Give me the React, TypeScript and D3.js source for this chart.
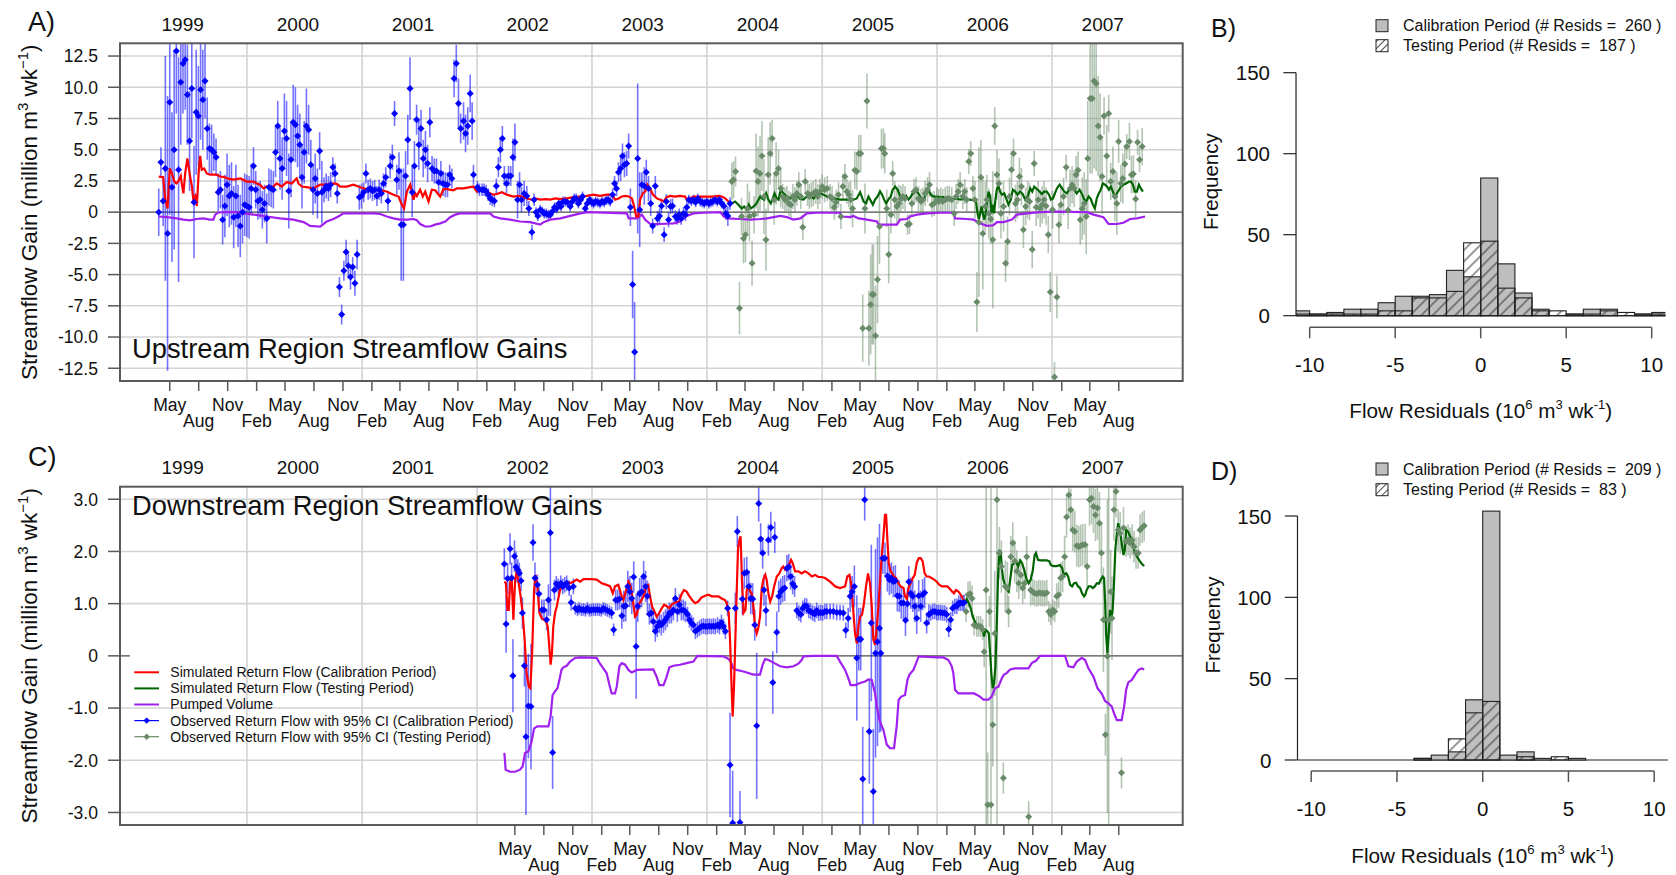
import React, { useEffect, useRef } from "react";
import * as d3 from "d3";

// ---------------------------------------------------------------------------
// Weekly series: week 0 = 27 Mar 1999. Observed rows are [week, value, 95% CI half-width].
// Simulated / pumped rows are [week, value]. Units: million m3 per week.
// ---------------------------------------------------------------------------
const SERIES_START = new Date(1999, 2, 27);
const WEEK_MS = 7 * 24 * 3600 * 1000;
const UP_TEST_OFFSET = 260; // upstream testing period starts 260 weeks in

const upObsCal: number[][] = [
  [0,0.0,1.9],[1,4.0,1.2],[2,0.9,2.0],[3,3.5,9],[4,-1.7,11],[5,8.8,9],[6,2.0,6],[7,5.0,8],[8,12.9,5],[9,3.4,9],
  [10,10.4,5],[11,11.9,4],[12,12.2,4],[13,9.4,4],[14,5.7,4],[15,9.9,4],[16,0.8,4.5],[17,8.0,5],[18,7.7,4],[19,9.8,4],
  [20,9.0,4],[21,10.5,3],[22,6.7,2.5],[23,5.1,2],[24,5.0,2],[25,4.8,1.5],[26,4.4,1.5],[27,1.6,1.5],[28,1.8,1.5],[29,-0.6,2],
  [30,0.5,2.5],[31,2.2,2.5],[32,1.3,2.5],[33,1.5,2.5],[34,-0.4,2.5],[35,1.3,2.5],[36,-0.3,2.5],[37,-1.1,2.5],[38,0.0,2.5],[39,0.6,2.5],
  [40,0.5,2.5],[41,0.4,2.5],[42,1.9,2],[43,3.7,1.5],[44,1.8,1.5],[45,0.9,1.5],[46,1.0,1.5],[47,0.2,1.5],[48,0.7,1.5],[49,-0.5,2],
  [50,2.0,1.5],[51,1.9,1.5],[52,1.8,1.5],[53,4.8,2],[54,6.9,2],[55,4.3,2.5],[56,3.5,2.5],[57,6.5,3],[58,5.9,3],[59,1.7,3],
  [60,4.2,3],[61,7.2,3],[62,7.0,3],[63,6.1,2.5],[64,5.4,2.5],[65,2.8,2.5],[66,4.8,2.5],[67,6.9,3],[68,6.6,2],[69,3.8,2],
  [70,1.8,2],[71,2.7,2],[72,1.5,2],[73,4.9,1.5],[74,1.6,2.5],[75,1.8,1],[76,2.1,1],[77,1.9,1],[78,2.2,1],[79,3.6,0.8],
  [80,3.1,0.8],[81,1.5,0.8],[82,-6.0,0.8],[83,-8.2,0.8],[84,-4.7,0.8],[85,-3.2,1],[86,-4.3,1],[87,-5.2,1],[88,-4.4,0.8],[89,-5.7,1],
  [90,-3.4,1.2],[91,1.2,1],[92,1.3,1],[93,1.6,0.8],[94,3.1,0.8],[95,1.8,0.8],[96,1.9,0.8],[97,1.7,0.8],[98,1.8,0.8],[99,1.3,0.8],
  [100,1.8,0.8],[101,1.5,0.8],[102,2.3,0.8],[103,2.8,0.8],[104,0.9,0.8],[105,3.7,1],[106,4.4,1],[107,7.9,1],[108,2.6,1.2],[109,3.3,1.5],
  [110,-1.0,4.5],[111,-1.0,4.5],[112,2.9,2],[113,5.8,2],[114,9.9,2.5],[115,1.6,2],[116,3.7,2],[117,7.4,1.2],[118,5.4,2],[119,6.7,1.5],
  [120,4.3,1.5],[121,5.0,1.5],[122,3.9,1.5],[123,7.2,1.2],[124,3.5,1],[125,3.3,1],[126,3.3,1],[127,2.4,1],[128,3.1,1],[129,2.3,1],
  [130,2.2,1],[131,2.2,1],[132,3.0,0.8],[133,2.7,0.8],[134,10.7,1.5],[135,11.9,1.5],[136,8.7,2],[137,6.7,1.2],[138.3,7.3,1.5],[139.2,6.3,1.5],
  [140.2,6.9,1.5],[141.3,9.5,1.5],[142.2,7.3,1.5],[142.8,3.0,0.8],[144.6,2.0,0.5],[145.5,1.8,0.5],[146.7,1.8,0.5],[147.6,1.8,0.5],[148.5,1.7,0.5],[149.5,1.4,0.5],
  [150.4,1.1,0.5],[151.3,1.0,0.5],[152.3,0.9,0.5],[153.2,2.1,0.6],[154.1,3.6,0.8],[155,5.0,1],[155.9,5.9,1],[156.8,2.9,0.8],[157.8,2.3,0.8],[158.7,2.9,0.8],
  [159.7,2.9,0.8],[160.7,4.4,1.5],[161.6,5.6,1.5],[162.8,1.0,1.5],[163.7,2.2,1],[164.6,1.0,1],[165.8,1.5,1],[167,1.3,0.8],[167.9,0.3,0.6],[169.3,-1.6,0.6],
  [170.3,1.0,0.5],[171.2,0.0,0.4],[172,-0.3,0.4],[173.1,0.2,0.4],[174,0.05,0.4],[174.9,-0.1,0.4],[175.8,-0.1,0.4],[176.8,-0.2,0.4],[177.7,-0.2,0.4],[178.6,0.05,0.4],
  [179.6,0.4,0.4],[180.6,0.3,0.4],[181.5,0.7,0.4],[182.5,0.45,0.4],[183.5,0.85,0.4],[184.4,0.85,0.4],[185.4,0.8,0.4],[186.7,0.45,0.4],[187.6,0.85,0.4],[188.5,1.1,0.4],
  [189.4,1.1,0.4],[190.4,0.7,0.4],[191.4,1.0,0.4],[192.3,1.25,0.4],[193.5,0.3,0.4],[194.4,0.7,0.4],[195.5,1.0,0.4],[196.4,0.8,0.4],[197.3,0.7,0.4],[198.2,0.85,0.4],
  [199.2,0.8,0.4],[200.2,0.7,0.4],[201.1,0.85,0.4],[202.1,0.8,0.4],[203,0.95,0.4],[203.9,1.0,0.4],[204.8,0.85,0.4],[205.9,1.4,0.5],[206.8,2.3,0.6],[207.7,1.9,0.6],
  [208.6,3.2,0.8],[209.6,3.5,1],[210.4,4.5,1],[211.3,3.8,1],[212.3,3.9,1],[213.2,5.3,1],[214,0.4,1.5],[215,-5.8,2.7],[215.9,-11.2,4],[217.3,4.3,6],
  [218.2,0.2,3],[219.2,2.2,1],[220.3,2.1,1.5],[221.2,3.2,1],[222.2,1.9,1],[223.2,0.7,1],[224.1,-1.1,0.6],[225.3,2.1,0.8],[226.3,-0.5,0.6],[227.2,-0.3,0.6],
  [228.1,0.5,0.6],[229.3,-1.8,0.6],[230.3,0.85,0.6],[231.3,-0.6,0.6],[232.2,0.45,0.6],[233.1,0.5,0.6],[234.4,-0.35,0.5],[235.2,-0.5,0.5],[236.1,-0.2,0.5],[237,-0.5,0.5],
  [238.1,-0.1,0.5],[239,-0.2,0.5],[239.6,0.4,0.5],[240.5,1.0,0.4],[241.6,0.9,0.4],[242.6,1.0,0.4],[243.6,0.8,0.4],[244.6,1.1,0.4],[245.7,0.85,0.4],[246.6,0.8,0.4],
  [247.5,0.7,0.4],[248.6,0.85,0.4],[249.6,0.7,0.4],[250.5,0.8,0.4],[251.4,0.85,0.4],[252.4,1.0,0.4],[253.4,0.85,0.4],[254.4,1.0,0.4],[255.4,0.7,0.4],[256.4,0.5,0.4],
  [257.3,-0.1,0.5],[258.2,-0.3,0.8],[259.2,0.7,0.5]
];

// weeks counted from the start of the upstream testing period
const upObsTest: number[][] = [
  [0,2.45,1.5],[0.8,2.6,1.5],[1.7,3.25,1.2],[3.5,-7.7,2.1],[4.4,-0.35,1.5],[5.3,-2.1,2],[6.2,-1.8,2.2],[7.1,0.3,2],[8,-0.35,2],[9.2,-4.1,1.8],
  [10.1,-0.2,1.5],[11,3.3,3],[11.9,2.45,2.8],[12.8,3.1,3],[13.7,4.5,2.8],[14.6,1.25,3],[15.5,-2.2,2.5],[16.5,3.0,3],[17.4,4.7,2.5],[18.3,5.9,1.5],
  [19.2,1.0,2],[20.1,3.1,2.5],[21.2,3.5,1.5],[22.2,1.9,1.5],[23.1,1.25,1],[24.1,1.0,1],[25,1.1,1],[25.9,0.7,1],[26.8,0.6,1],[27.7,1.25,1],
  [28.6,1.0,1],[29.5,1.5,1],[30.4,2.2,1],[31.3,1.25,1],[32.2,-1.2,1],[33.3,2.45,1],[34.4,1.5,1],[35.2,1.25,1],[36.1,1.4,1],[37,1.5,1],
  [38.1,1.65,1],[39,1.25,1],[39.9,1.65,1],[41,2.05,1],[42.1,1.8,1],[43.3,1.9,1],[44.6,1.25,1],[45.5,1.1,1],[46.5,0.4,1],[47.3,0.8,1],
  [48.4,1.4,1],[49.5,-0.35,1],[50.4,2.05,1],[51.3,2.85,1],[52.2,1.65,1],[53.1,1.4,1],[53.9,1.0,1.5],[54.8,0.3,1.5],[55.8,3.35,1.5],[56.7,3.25,1.5],
  [57.6,4.7,1.5],[58.5,4.7,1.5],[59.4,-9.3,2.7],[60.4,0.3,2],[61.3,8.9,2.2],[62.2,-9.3,3],[63,-7.4,4],[63.7,-6.6,4],[64.3,-6.6,4],[65.2,-9.9,4],
  [66.1,-5.4,3.5],[67,-1.15,3],[67.9,5.1,1.6],[68.8,5.1,1.6],[69.4,4.7,1.6],[70.3,0.3,1.5],[71.2,-3.4,2.3],[72.2,-0.2,1.5],[73,3.1,1],[73.9,1.0,1.5],
  [74.9,0.45,1.5],[75.8,0.7,1.5],[76.7,1.1,1],[77.6,1.25,1],[78.6,1.1,1],[79.7,-1.0,0.8],[80.6,-0.95,0.8],[81.7,0.7,1],[82.7,1.65,1],[83.6,1.8,1],
  [84.7,1.1,1],[85.8,0.85,1],[86.7,1.0,1],[87.7,1.5,1],[88.8,1.8,1],[89.7,2.2,1],[90.8,0.6,1],[91.8,0.7,1],[93,1.0,1],[93.9,0.85,1],
  [94.8,1.0,1],[95.7,0.85,1],[96.8,1.0,1],[97.8,1.1,1],[98.7,1.1,1],[99.8,1.0,1],[100.9,-0.1,1],[101.8,1.25,1],[102.7,1.65,1],[103.6,2.2,1],
  [104.8,1.25,1],[105.7,1.65,1],[106.6,1.0,1],[107.5,4.05,1],[108.4,4.7,1],[109.4,1.9,1],[110.3,1.0,1.5],[111.2,-7.2,2.4],[112.1,-0.8,6],[113,2.8,3],
  [113.9,-1.7,4.5],[115,0.45,2],[115.7,1.0,2],[116.6,-0.1,2],[117.5,-0.55,2],[118.4,-2.2,5.5],[119.3,6.9,1.5],[120.3,3.0,2],[121.2,2.3,2],[122.1,-0.1,2],
  [123.3,0.45,2],[124.2,-4.1,1.5],[125.1,-2.35,2],[126,1.25,1.5],[126.9,3.4,1.5],[127.8,4.7,1.2],[128.7,0.7,1.5],[129.6,1.0,1.5],[130.5,2.85,1.5],[131.4,2.05,1.5],
  [132.3,-1.4,1.5],[133.3,0.45,1.5],[134.2,1.0,1.5],[135.1,0.85,1.5],[136.3,-3.0,1.5],[137.2,3.9,1],[138.1,0.4,1.5],[139,1.0,1.5],[139.9,0.3,1.5],[140.8,0.6,1.5],
  [141.7,1.0,1.5],[142.6,0.5,1.5],[143.6,-1.8,1.5],[144.5,-6.4,1.6],[145.5,0.2,1.5],[146.4,-13.2,1.2],[147.5,-6.8,1.7],[148.4,-1.0,1.5],[149.3,0.6,1.5],[150.5,1.25,1.5],
  [151.7,3.6,1],[152.6,0.15,1.5],[153.5,1.9,1.5],[154.4,2.2,1.5],[155.3,1.9,1.5],[156.2,3.0,1.5],[157.1,3.35,1.5],[158.1,-0.6,2],[159,0.3,2.5],[159.9,0.7,2.5],
  [160.8,-0.35,3],[161.5,4.3,4.6],[162.6,9.1,6],[163.5,9.1,6],[164.4,10.5,7],[165.3,10.3,7],[166.2,6.9,4],[167.1,6.0,3.5],[168,2.85,3],[168.9,7.7,1.5],
  [170.1,4.5,2.5],[171,7.9,1.5],[171.9,2.45,1.5],[172.9,3.25,2],[173.8,1.25,2],[174.7,0.7,2.5],[175.5,5.65,1.7],[176.5,2.3,1.5],[177.4,2.7,2],[178.3,3.85,1.5],
  [179.2,5.25,1],[180.4,5.65,1.5],[181.3,3.0,1.5],[182.2,3.05,1.5],[183.2,1.05,1.5],[184.1,5.6,1],[185,4.2,1],[186.2,5.25,1.5]
];

const upSimCal: number[][] = [
  [0,2.85],[2,2.8],[3,1.0],[4,0.3],[5,3.5],[6,3.1],[7,2.5],[8,2.3],[9,2.5],[10,2.9],[10.6,2.1],[11.2,1.5],[12,3.1],[13,4.3],[14,3.1],
  [15,2.1],[15.7,1.0],[16.6,1.3],[17.3,0.5],[18.2,3.4],[18.8,4.5],[19.5,3.4],[20.6,3.5],[21.8,3.1],[23.3,3.0],[26.3,3.0],[27.8,2.85],[30,2.8],
  [31,2.7],[34,2.6],[37,2.7],[40,2.45],[43,2.45],[44.5,2.3],[46,2.2],[47.5,1.9],[49,2.05],[50.5,1.9],[52,2.05],[53.5,2.3],[55.8,2.05],[58,2.4],
  [60.4,2.3],[61.9,2.6],[62.6,2.7],[63.4,2.3],[64.9,2.05],[67,2.0],[70.2,1.9],[73.2,2.2],[76.2,2.2],[79.3,2.3],[81,2.25],[82.3,2.05],[85.3,2.05],
  [88.3,2.2],[90.6,2.05],[92.9,1.9],[94.4,1.85],[97.4,1.8],[100.4,1.75],[103.4,1.65],[106.5,1.4],[108.8,1.25],[110.3,0.6],[111.3,0.3],[112.6,1.65],
  [114.1,2.2],[115.6,1.0],[116.4,1.5],[117.1,1.3],[118.6,1.8],[119.8,1.25],[120.9,1.65],[122.4,0.85],[123.9,1.8],[125.4,1.75],[127.7,1.25],
  [129.2,1.85],[130.7,1.85],[133.7,1.75],[135.2,1.9],[138.2,1.9],[141.3,2.0],[142.8,2.05],[144.3,1.65],[145.8,1.8],[148.1,1.75],[150.4,1.5],
  [151.9,1.4],[153.4,1.45],[155.7,1.6],[157.9,1.4],[160.9,1.25],[163.2,1.3],[165.5,1.2],[167.8,1.05],[169.3,1.0],[170.8,1.1],[173.1,1.0],
  [175.4,1.05],[177.6,1.0],[179.9,1.1],[182.2,1.05],[185.2,1.1],[188.2,1.2],[191.2,1.25],[194.2,1.3],[197.2,1.4],[200.3,1.3],[203.3,1.4],
  [205.5,1.4],[207.1,1.0],[208.6,1.1],[210.1,1.25],[211.6,1.3],[213.2,1.25],[214.7,1.1],[215.7,0.45],[216.6,-0.35],[217.6,-0.35],[218.4,1.0],
  [219.6,1.5],[220.7,1.65],[221.7,2.2],[222.9,1.9],[224.2,1.4],[226,1.1],[227.5,1.0],[229,0.85],[230.5,1.2],[232,1.3],[234.3,1.25],[236.5,1.3],
  [238.8,1.25],[239.6,1.0],[241.1,1.05],[242.6,1.25],[244.9,1.25],[247.2,1.25],[249.4,1.25],[251.7,1.25],[254,1.3],[255.5,1.25],[257,1.1],
  [258.5,0.85],[259.6,0.7]
];

// weeks counted from the start of the upstream testing period
const upSimTest: number[][] = [
  [0,0.7],[1.5,0.85],[3,0.6],[4.5,0.3],[5.6,0.45],[6.8,0.2],[7.7,0.6],[8.6,0.3],[9.8,0.45],[11,0.65],[12.1,1.0],[12.9,1.25],[13.6,1.1],
  [14.7,1.0],[15.6,1.5],[16.6,1.0],[17.7,0.7],[18.6,1.1],[19.4,1.5],[20.4,1.1],[21.2,1.0],[22.2,1.8],[23.4,1.5],[25,1.25],[26.5,1.1],[28,1.25],
  [29.5,1.3],[31,1.05],[32.5,1.0],[34,1.25],[35.6,1.3],[37.1,1.1],[38.6,1.4],[40.1,1.5],[41.6,1.4],[43.1,1.25],[46.1,1.1],[49.1,1.0],[52.2,1.0],
  [55.2,1.0],[56.7,1.1],[58.2,1.6],[59.8,0.85],[60.9,0.7],[62,1.25],[62.8,1.0],[64,0.6],[65,1.0],[66.1,1.25],[67.3,1.65],[68.2,1.4],[69.1,1.0],
  [70,0.7],[71,1.0],[72.1,1.25],[73,1.8],[74.1,2.05],[75.2,1.8],[76.1,1.4],[77.1,1.0],[78.2,1.1],[79.1,1.3],[80.2,1.0],[81.2,1.25],[82.1,1.5],
  [83.2,1.8],[84.3,1.6],[85.4,1.25],[86.2,1.0],[87.3,1.1],[88.2,1.5],[89.2,1.8],[90.3,1.4],[91.5,1.25],[93,1.25],[94.5,1.2],[96,1.2],[97.6,1.1],
  [99.1,1.1],[100.6,1.05],[102.1,1.1],[103.6,1.0],[105.1,1.05],[106.6,1.0],[108.1,1.0],[109.6,0.95],[110.8,0.85],[111.5,-0.1],[112.1,-0.6],
  [112.7,-0.1],[113.3,0.45],[113.9,-0.1],[114.5,-0.6],[115.1,-0.2],[115.7,0.7],[116.5,1.65],[117.2,1.25],[117.8,-0.1],[118.4,0.6],[119,-0.1],
  [119.6,1.0],[120.3,1.9],[121,2.05],[121.7,1.65],[122.6,1.4],[123.6,1.5],[124.5,1.1],[125.5,0.6],[126.6,1.0],[127.5,1.8],[128.6,1.65],
  [129.6,1.4],[130.8,1.65],[132,1.45],[133.1,1.0],[134.2,1.25],[135.4,1.9],[136.3,1.65],[137.2,2.05],[138.4,1.85],[139.6,1.65],[140.7,1.45],
  [141.7,1.65],[142.9,1.65],[143.9,1.4],[144.8,1.0],[145.7,1.1],[146.6,1.5],[147.5,1.9],[148.7,2.2],[149.9,1.9],[150.8,1.65],[152,1.5],
  [153.2,1.9],[154.4,2.05],[155.3,1.8],[156.5,1.5],[157.8,1.8],[159,1.4],[159.9,1.0],[160.8,0.85],[161.9,1.25],[162.9,1.05],[163.8,0.6],
  [164.7,0.3],[165.6,1.1],[166.5,1.5],[167.4,1.8],[168.4,2.3],[169.3,2.2],[170.2,2.05],[171.1,1.8],[172,2.05],[172.9,1.65],[173.8,1.25],
  [174.7,1.5],[175.6,1.75],[176.5,2.05],[177.7,2.2],[178.9,2.3],[180.2,2.45],[181.1,2.45],[182,2.2],[182.9,1.65],[183.8,1.65],[184.7,2.2],
  [185.6,1.9],[186.5,1.65]
];

const upPumped: number[][] = [
  [0,-0.35],[3.6,-0.4],[8.2,-0.5],[11.2,-0.6],[14.2,-0.65],[17.2,-0.55],[20.3,-0.5],[23.3,-0.6],[24.8,-0.6],[25.6,-0.2],[27,-0.03],[30.9,0],
  [35.4,0],[38.4,-0.1],[43,-0.2],[49,-0.35],[55,-0.5],[61.1,-0.6],[65.7,-0.8],[68.7,-1.1],[73.2,-1.15],[74.7,-0.95],[76.2,-0.75],[79.3,-0.55],
  [81.5,-0.35],[83.8,-0.1],[97.4,-0.1],[100.5,-0.15],[103.5,-0.35],[106.5,-0.5],[109.5,-0.6],[112.6,-0.6],[115.6,-0.55],[117.1,-0.65],
  [118.6,-0.95],[120.9,-1.15],[123.1,-1.15],[125.4,-1.0],[127.7,-0.9],[130,-0.75],[132.2,-0.4],[134.5,-0.2],[136.8,-0.1],[150.4,-0.1],
  [151.9,-0.35],[154.9,-0.5],[159.4,-0.6],[164,-0.75],[168.5,-0.8],[173.1,-1.0],[174.6,-0.8],[177.6,-0.6],[182.2,-0.5],[186.7,-0.3],
  [191.3,-0.1],[194.2,0],[212.4,-0.1],[213.2,-0.5],[217,-0.5],[219.2,-0.2],[220.7,-0.6],[223,-0.95],[227.5,-0.95],[233.6,-0.9],[236.6,-0.75],
  [239.6,-0.3],[242.6,-0.1],[247.2,-0.05],[254.8,0],[256.3,-0.35],[257.8,-0.5],[263.9,-0.55],[268.4,-0.6],[273,-0.55],[276,-0.5],[282,-0.3],
  [285,-0.4],[288,-0.6],[291.1,-0.5],[294.1,-0.1],[298.6,-0.05],[309.1,-0.05],[309.9,-0.35],[313.7,-0.4],[315.2,-0.3],[317.5,-0.5],
  [321.3,-0.6],[325.9,-0.75],[326.6,-1.0],[334.9,-1.0],[336.4,-0.6],[339.4,-0.55],[340.9,-0.35],[344,-0.2],[348.5,-0.1],[354.5,-0.05],
  [360.6,-0.05],[361.3,-0.5],[366.6,-0.55],[369.7,-0.6],[372,-0.85],[375.7,-1.1],[378.7,-1.05],[380.3,-0.8],[383.3,-0.8],[387.1,-0.6],
  [389.3,-0.2],[393.9,-0.1],[399.9,0],[406,0.05],[421.1,0],[424.1,-0.2],[428.6,-0.4],[430.9,-0.95],[434.7,-0.95],[437.7,-0.85],[440.7,-0.55],
  [443.8,-0.5],[447.5,-0.35]
];

// Downstream region (same week numbering as upstream)
const dnObsCal: number[][] = [
  [156.8,1.76,0.3],[157.6,0.61,0.55],[158.3,1.48,0.3],[159.4,2.05,0.3],[160.1,1.49,0.3],[160.7,-0.38,0.7],[161.4,1.91,0.3],[162.1,1.7,0.3],
  [162.9,1.65,0.2],[163.6,1.58,0.2],[164.4,1.44,0.2],[165,0.82,0.3],[165.9,-0.19,0.4],[166.6,-1.55,1.5],[167.7,-0.96,1.0],[168.9,-0.97,1.2],
  [169.8,2.17,0.35],[170.7,1.49,0.3],[171.8,1.36,0.2],[172.5,1.19,0.2],[173.8,0.88,0.2],[174.8,0.88,0.2],[176,0.69,0.2],[176.8,1.07,0.3],
  [177.7,2.36,1.6],[178.7,-1.85,0.7],[179.5,1.26,0.2],[180.4,1.38,0.15],[181.3,1.33,0.15],[182.4,1.39,0.15],[183.3,1.33,0.15],[184.2,1.36,0.15],
  [185.1,1.39,0.15],[186.2,1.3,0.15],[187.1,1.02,0.15],[188.1,1.33,0.15],[189,0.91,0.12],[190,0.88,0.12],[190.8,0.91,0.12],[191.8,0.88,0.12],
  [192.7,0.89,0.12],[193.6,0.87,0.12],[194.5,0.91,0.12],[195.4,0.87,0.12],[196.3,0.88,0.12],[197.2,0.89,0.12],[198.1,0.88,0.12],[199,0.89,0.12],
  [199.9,0.88,0.12],[200.8,0.87,0.12],[201.7,0.91,0.12],[202.6,0.89,0.12],[203.5,0.87,0.12],[204.5,0.85,0.12],[205.5,0.82,0.12],[206.4,0.5,0.12],
  [207.3,1.07,0.2],[208.2,1.07,0.2],[209.1,1.09,0.2],[210.1,0.77,0.25],[211,0.95,0.3],[211.9,0.96,0.3],[212.8,1.33,0.3],[213.7,1.23,0.3],
  [214.6,1.1,0.3],[215.5,1.51,0.3],[216.6,0.18,1.0],[217.3,0.95,0.3],[218.2,1.19,0.3],[219.1,1.23,0.3],[220,1.52,0.3],[220.9,1.33,0.3],
  [221.7,1.14,0.3],[222.6,0.8,0.2],[223.5,0.82,0.2],[224.4,0.66,0.2],[225.3,0.47,0.2],[226.2,0.56,0.2],[227.1,0.64,0.2],[228,0.59,0.2],
  [229,0.64,0.2],[229.9,0.69,0.2],[230.8,0.75,0.2],[231.7,0.82,0.2],[232.6,0.82,0.2],[233.5,0.88,0.2],[234.4,1.1,0.2],[235.3,0.85,0.2],
  [236.2,0.98,0.2],[237.1,0.88,0.2],[238,0.88,0.2],[238.9,0.85,0.2],[239.9,0.79,0.15],[240.8,0.69,0.15],[241.7,0.63,0.15],[242.6,0.59,0.15],
  [243.5,0.47,0.15],[244.4,0.5,0.15],[245.3,0.53,0.15],[246.2,0.56,0.15],[247.1,0.57,0.15],[248,0.56,0.15],[248.9,0.56,0.15],[249.8,0.57,0.15],
  [250.7,0.56,0.15],[251.6,0.57,0.15],[252.5,0.56,0.15],[253.5,0.59,0.15],[254.4,0.56,0.15],[255.3,0.64,0.15],[256.2,0.56,0.15],[257.1,0.47,0.15],
  [258.1,0.91,0.15],[259.2,-2.09,1.0],[260.4,-3.2,1.0],[261.6,0.91,0.3],[262.5,2.38,0.3],[263.7,-3.19,0.6],[264.8,1.09,0.3],[265.7,1.58,0.3],
  [266.8,1.6,0.3],[267.7,1.33,0.3],[268.6,1.1,0.3],[269.5,1.09,0.3],[270.4,0.59,0.3],[271.3,-1.34,1.4],[272.2,2.92,0.35],[273.1,2.24,0.3],
  [274,1.97,0.3],[274.6,1.26,0.3],[275.5,0.87,0.3],[276.6,2.22,0.3],[277.7,2.46,0.3],[278.6,-0.51,0.6],[279.5,2.27,0.3],[280.4,0.45,0.4],
  [281.3,1.14,0.3],[282.2,1.23,0.25],[283.1,1.28,0.25],[284,1.3,0.25],[285,1.68,0.25],[285.8,1.7,0.25],[286.7,1.52,0.25],[287.6,1.38,0.2],
  [288.5,1.33,0.2],[289.5,0.87,0.15],[290.4,0.82,0.15],[291.3,0.79,0.15],[292.2,0.91,0.15],[293.1,0.96,0.15],[294,0.95,0.15],[294.9,0.87,0.15],
  [295.8,0.85,0.15],[296.7,0.82,0.15],[297.6,0.8,0.15],[298.5,0.87,0.15],[299.4,0.82,0.15],[300.3,0.83,0.15],[301.2,0.82,0.15],[302.2,0.85,0.15],
  [303.1,0.85,0.15],[304.6,0.85,0.15],[306.1,0.85,0.15],[307.6,0.83,0.15],[309.1,0.83,0.15],[310.6,0.82,0.15],[311.7,0.49,0.15],[312.8,0.72,0.2],
  [313.7,1.14,0.3],[314.6,1.23,0.3],[315.6,1.33,0.4],[316.7,-0.04,1.2],[317.6,0.32,0.6],[318.5,0.32,0.6],[319.4,-2.36,1.0],[320.3,2.99,0.4],
  [322.4,-1.45,1.0],[323.3,0.63,1.5],[324.2,-2.6,1.2],[325.2,0.05,2],[326.1,0.27,2],[327,0.53,2],[327.6,0.05,1.5],[328.5,1.87,0.3],
  [329.5,1.87,0.3],[330.6,1.53,0.3],[331.5,1.46,0.3],[332.4,1.49,0.3],[333.3,1.42,0.3],[334.2,1.44,0.3],[335.1,1.15,0.3],[336,1.14,0.3],
  [336.9,1.01,0.3],[337.9,1.01,0.3],[338.8,0.68,0.3],[339.7,1.0,0.3],[340.3,1.42,0.3],[341.2,1.2,0.3],[342.1,1.14,0.3],[343,0.95,0.3],
  [343.9,0.72,0.3],[344.8,1.15,0.3],[345.7,0.95,0.3],[346.6,1.17,0.3],[347.5,1.21,0.3],[348.4,0.63,0.2],[349.4,0.79,0.2],[350.3,0.82,0.15],
  [351.2,0.85,0.15],[352.1,0.85,0.15],[353,0.83,0.15],[353.9,0.83,0.15],[354.8,0.83,0.15],[355.7,0.82,0.15],[356.6,0.82,0.15],[357.5,0.79,0.15],
  [358.4,0.51,0.15],[359.3,0.69,0.15],[360.2,0.91,0.15],[361.2,0.95,0.15],[362.1,0.95,0.15],[363,1.01,0.15],[363.9,1.01,0.15],[364.8,1.01,0.15],
  [365.4,1.02,0.15]
];

const dnObsTest: number[][] = [
  [366.3,0.85,0.2],[367.2,1.17,0.25],[368.1,1.19,0.25],[369,1.1,0.25],[369.9,0.59,0.2],[371.1,0.56,0.2],[372,0.57,0.2],[372.9,0.56,0.2],
  [373.8,0.5,0.2],[374.5,0.08,0.3],[375.4,1.26,5],[376.1,-2.85,1.0],[376.9,0.85,0.3],[377.6,-2.85,7],[378.4,-1.32,0.8],[379.3,0.43,1.2],
  [380.3,2.99,7],[381.4,1.97,0.5],[382.3,1.71,0.5],[383.2,-2.34,0.3],[384.1,1.33,0.5],[385,1.3,0.5],[385.6,0.85,0.3],[386.6,1.9,0.4],
  [387.5,2.16,0.4],[388.4,1.81,0.4],[389.3,1.62,0.4],[390.2,1.39,0.3],[391.1,1.55,0.3],[392,1.3,0.3],[392.9,1.39,0.3],[393.8,1.9,0.4],
  [394.7,-3.08,0.3],[395.6,1.26,0.3],[396.5,1.23,0.25],[397.4,1.2,0.25],[398.4,1.19,0.25],[399.3,1.21,0.25],[400.2,1.2,0.25],[401.1,1.2,0.25],
  [402,1.19,0.25],[402.9,1.21,0.25],[403.8,0.85,0.2],[404.7,0.79,0.2],[405.6,0.88,0.2],[406.5,0.85,0.2],[407.4,1.14,0.25],[408.3,1.17,0.25],
  [409.2,1.49,0.3],[410.1,1.52,0.3],[411,1.9,0.4],[411.9,2.66,0.4],[412.9,3.08,0.4],[413.8,2.8,0.4],[414.7,2.41,0.4],[415.6,2.38,0.4],
  [416.5,2.11,0.4],[417.4,2.09,0.4],[418.3,2.11,0.4],[419.2,2.13,0.4],[420.3,2.13,0.4],[421.2,1.71,0.4],[422.3,2.99,0.5],[423.2,3.02,0.5],
  [424.1,2.86,0.5],[425,2.7,0.5],[425.9,2.83,0.6],[426.8,2.54,0.6],[427.7,1.97,0.6],[428.6,0.69,1.0],[429.5,-1.51,0.4],[430.4,-0.01,3],
  [431,0.69,4],[431.9,1.23,0.8],[432.5,0.72,0.8],[433.4,2.8,0.6],[434.3,3.15,0.5],[435.3,2.41,0.4],[436.2,2.35,0.4],[436.8,-2.24,0.3],
  [437.7,2.45,0.4],[438.9,2.19,0.3],[439.8,2.22,0.3],[440.7,2.16,0.3],[441.6,2.22,0.3],[442.5,2.09,0.3],[443.4,1.97,0.3],[444.4,1.97,0.3],
  [445.2,2.41,0.3],[446.2,2.46,0.3],[447.1,2.49,0.3]
];

const dnSimCal: number[][] = [
  [156.8,1.42],[157.5,1.4],[158.2,0.88],[158.8,0.88],[159.4,1.39],[160.1,1.52],[160.9,0.69],[161.7,1.46],[162.4,1.62],[163.3,1.39],[164.2,1.14],
  [165.1,0.82],[166,0.31],[166.9,-0.33],[167.9,-0.59],[168.6,-0.62],[169.4,0.05],[170.3,1.26],[170.9,1.55],[171.8,1.33],[172.7,0.82],[173.8,0.72],
  [174.8,0.69],[175.7,0.66],[176.5,0.56],[177.2,0.18],[177.8,-0.17],[178.4,0.05],[179,0.56],[179.8,0.82],[180.6,0.95],[181.5,1.14],[182.4,1.33],
  [183.3,1.39],[184.3,1.39],[185.4,1.42],[186.6,1.39],[188.1,1.42],[189.6,1.46],[191.2,1.42],[192.7,1.47],[194.2,1.47],[196.4,1.47],[198.7,1.46],
  [201,1.39],[203.2,1.36],[204.8,1.33],[206,1.2],[207,1.33],[208.5,1.36],[210.1,1.14],[210.8,1.07],[211.9,1.23],[213.1,1.42],[214.1,1.33],
  [215,1.1],[216.1,0.75],[216.9,0.79],[218.1,1.01],[219.1,1.07],[220.2,1.17],[221.1,1.33],[222.1,1.36],[222.9,1.14],[223.8,0.95],[224.9,0.85],
  [225.9,0.75],[227.1,0.82],[228.2,0.91],[229.3,0.98],[230.5,0.95],[231.7,0.91],[232.7,0.98],[233.8,1.01],[235,1.04],[235.9,1.01],[237.1,1.17],
  [238.3,1.26],[239.5,1.23],[240.8,1.14],[242,1.07],[243.3,1.01],[244.8,1.04],[246.3,1.12],[247.9,1.15],[249.4,1.17],[250.9,1.14],[252.4,1.14],
  [253.9,1.14],[255.4,1.1],[256.9,1.07],[257.7,1.01],[258.6,0.82],[259.2,0.31],[259.8,-0.46],[260.4,-1.16],[261,-0.59],[261.6,0.31],[262.2,1.2],
  [262.8,2.03],[263.4,2.22],[264,2.29],[264.6,1.46],[265.3,0.82],[266.2,0.88],[266.8,1.26],[267.5,1.33],[268.3,1.23],[269,1.2],[269.8,0.95],
  [270.5,0.56],[271.3,0.43],[272,0.53],[272.8,0.75],[273.6,1.3],[274.3,1.46],[275.2,1.55],[275.8,1.46],[276.6,1.2],[277.4,1.04],[278.3,1.14],
  [279.2,1.33],[280.4,1.52],[281.6,1.58],[282.6,1.68],[283.4,1.71],[284.2,1.65],[285.2,1.71],[286.1,1.76],[286.9,1.84],[287.6,1.78],[288.7,1.62],
  [290.2,1.62],[291.7,1.58],[293.2,1.62],[294.8,1.58],[296.3,1.52],[297.8,1.55],[299.3,1.51],[300.8,1.51],[302.3,1.49],[304.6,1.42],[306.9,1.33],
  [309.1,1.3],[311.4,1.33],[312.4,1.52],[313.4,1.55],[314.3,1.33],[315.2,0.82],[315.9,0.43],[316.7,0.24],[317.4,0.56],[318.2,0.75],[319.1,0.79],
  [320,1.01],[320.9,1.33],[321.8,1.58],[322.7,1.39],[323.5,0.95],[324.2,0.31],[325,0.21],[325.8,0.56],[326.5,0.95],[327.3,1.46],[328,1.9],
  [328.8,2.29],[329.5,2.7],[330,2.7],[330.6,2.22],[331.2,1.78],[331.8,1.65],[332.7,1.58],[333.6,1.52],[334.5,1.49],[335.6,1.39],[336.6,1.33],
  [337.9,1.3],[338.6,1.14],[339.4,1.09],[340.3,1.33],[341.2,1.39],[342.1,1.49],[343,1.55],[343.9,1.78],[344.8,1.87],[345.7,1.87],[346.6,1.81],
  [347.5,1.58],[348.4,1.52],[349.4,1.52],[350.6,1.49],[351.8,1.46],[353,1.42],[354.2,1.36],[355.4,1.33],[356.6,1.33],[357.8,1.33],[359,1.28],
  [360,1.23],[360.8,1.2],[361.7,1.26],[362.8,1.23],[363.9,1.17],[364.8,1.1],[365.7,1.01]
];

const dnSimTest: number[][] = [
  [365.7,1.01],[366.6,1.09],[367.5,1.01],[368.4,0.91],[369.3,0.75],[370.2,0.66],[371.1,0.59],[372,0.59],[372.9,0.56],[373.9,0.47],[374.5,0.37],
  [375,0.5],[376,0.47],[376.6,0.43],[377.2,0.05],[377.8,-0.36],[378.4,-0.62],[379,-0.52],[379.6,-0.2],[380.2,0.56],[380.8,1.52],[381.4,2.03],
  [382,1.97],[382.6,1.65],[383.2,1.46],[384.1,1.33],[385,1.26],[385.6,1.23],[386.3,1.46],[387.2,1.74],[388.1,1.78],[389,1.81],[389.9,1.71],
  [390.8,1.83],[391.7,1.78],[392.6,1.65],[393.8,1.46],[394.7,1.39],[395.6,1.46],[396.5,1.62],[397.4,1.93],[398,1.97],[398.9,1.84],[399.9,1.83],
  [401.4,1.83],[402.9,1.83],[404.1,1.81],[404.7,1.74],[405.9,1.72],[407.4,1.72],[408.9,1.74],[409.9,1.68],[410.5,1.55],[411.7,1.58],[412.6,1.52],
  [413.5,1.36],[414.4,1.33],[415.3,1.39],[416.2,1.4],[417.1,1.33],[418,1.3],[418.9,1.2],[419.8,1.14],[420.4,1.17],[421,1.26],[421.9,1.33],
  [422.9,1.33],[423.8,1.3],[424.7,1.33],[425.6,1.39],[426.5,1.38],[427.4,1.46],[428.3,1.52],[428.9,1.49],[429.4,1.01],[429.8,0.43],[430.4,0.05],
  [431,0.43],[431.6,0.88],[432.2,0.69],[432.8,0.88],[433.4,1.39],[434,2.03],[434.7,2.35],[435.3,2.54],[435.9,2.41],[436.5,2.29],[437.1,2.09],
  [437.7,1.93],[438.3,2.03],[438.9,2.41],[439.8,2.38],[440.7,2.29],[441.6,2.22],[442.5,2.03],[443.4,1.93],[444.3,1.87],[445.2,1.81],[446.1,1.76],
  [447.1,1.72]
];

const dnPumped: number[][] = [
  [156.8,-1.86],[157.4,-2.18],[159.4,-2.22],[161.7,-2.22],[163.9,-2.18],[165.1,-2.12],[166.2,-1.86],[167.7,-1.83],[169.2,-1.64],[170.3,-1.39],
  [171.8,-1.35],[176.8,-1.35],[177.8,-1.16],[178.7,-0.75],[179.8,-0.68],[180.9,-0.62],[181.8,-0.46],[182.7,-0.27],[183.6,-0.22],[185.1,-0.19],
  [186.6,-0.11],[188.9,-0.04],[191.1,-0.03],[198.7,-0.04],[200.2,-0.15],[201.7,-0.24],[203.2,-0.33],[204.5,-0.56],[205.5,-0.72],[207,-0.72],
  [207.8,-0.59],[209,-0.2],[210.1,-0.14],[211.6,-0.17],[213.1,-0.27],[214.6,-0.32],[216.9,-0.27],[224.4,-0.26],[225.9,-0.4],[227.1,-0.56],
  [229,-0.56],[230.2,-0.43],[231.7,-0.22],[233.5,-0.19],[236.5,-0.17],[239.5,-0.14],[242.6,-0.11],[244.4,0],[256.2,-0.01],[258.5,-0.06],
  [259.5,-0.11],[260.7,-0.24],[262.2,-0.27],[265.3,-0.3],[269.8,-0.36],[272.8,-0.36],[274,-0.17],[275.1,-0.06],[276.6,-0.08],[278.9,-0.13],
  [281.9,-0.2],[285,-0.22],[288,-0.2],[290.2,-0.15],[291.7,-0.08],[292.5,-0.01],[297,0],[307.6,0],[309.1,-0.11],[311.4,-0.27],[312.9,-0.43],
  [313.9,-0.56],[315.9,-0.56],[318.2,-0.52],[320.5,-0.49],[322,-0.45],[323.5,-0.46],[325,-0.72],[325.8,-0.97],[327,-1.23],[328.8,-1.42],
  [330.3,-1.7],[331.8,-1.77],[333.6,-1.77],[334.8,-1.35],[335.7,-0.84],[336.9,-0.78],[338.6,-0.75],[339.7,-0.46],[340.6,-0.36],[342.4,-0.27],
  [343.9,-0.11],[344.8,-0.01],[353,-0.03],[356,-0.03],[358.3,-0.08],[359.8,-0.2],[360.5,-0.33],[361.3,-0.65],[362.8,-0.72],[369.9,-0.72],
  [372.6,-0.78],[374.2,-0.84],[376.4,-0.84],[377.9,-0.78],[379.4,-0.62],[381,-0.59],[382.5,-0.43],[383.5,-0.36],[384.7,-0.33],[386.3,-0.26],
  [388.5,-0.24],[394.6,-0.24],[396.1,-0.14],[398.1,-0.09],[399.9,0],[411.2,0],[412.7,-0.2],[415,-0.22],[416.5,-0.11],[418.8,-0.04],[420.3,-0.08],
  [421.8,-0.24],[424.1,-0.4],[425.9,-0.62],[427.8,-0.72],[429.4,-0.87],[430.9,-0.91],[432.4,-0.97],[433.4,-1.1],[434.7,-1.23],[436.9,-1.23],
  [438,-0.97],[438.9,-0.65],[439.9,-0.51],[441.5,-0.46],[443,-0.36],[444.5,-0.27],[446,-0.24],[447.1,-0.26]
];

// Residual histograms: one-unit bins, lower edges -11 .. 10
const histBinLower = d3.range(-11, 11);
const upCalCounts = [3,1,2,4,4,8,12,12,13,28,24,85,32,14,4,0,1,4,4,0,1,2];
const upTestCounts = [1,1,1,1,1,3,3,11,11,15,45,46,17,11,3,3,1,1,3,2,1,1];
const dnCalCounts = [0,0,0,0,0,0,0,1,3,5,37,153,3,5,1,0,1,0,0,0,0,0];
const dnTestCounts = [0,0,0,0,0,0,0,1,0,13,29,36,0,2,0,2,0,0,0,0,0,0];

const yearLabels = d3.range(1999, 2008);
const upYTicks = [12.5, 10, 7.5, 5, 2.5, 0, -2.5, -5, -7.5, -10, -12.5];
const dnYTicks = [3, 2, 1, 0, -1, -2, -3];
const histYTicks = [0, 50, 100, 150];
const histXTicks = [-10, -5, 0, 5, 10];

const legendLabels = [
  "Simulated Return Flow (Calibration Period)",
  "Simulated Return Flow (Testing Period)",
  "Pumped Volume",
  "Observed Return Flow with 95% CI (Calibration Period)",
  "Observed Return Flow with 95% CI (Testing Period)",
];

// ---------------------------------------------------------------------------
const FONT = "'Liberation Sans', Arial, Helvetica, sans-serif";
const RED = "#FF0000";
const DKGREEN = "#006400";
const PURPLE = "#A020F0";
const BLUE = "#0000FF";
const TESTPT = "#698B69";
const BLUE_CI = "rgba(0,0,255,0.55)";
const TEST_CI = "rgba(105,139,105,0.5)";
const GRID = "#d3d3d3";
const FRAME = "#5a5a5a";

const weekDate = (w: number) => new Date(SERIES_START.getTime() + w * WEEK_MS);

const x = d3
  .scaleTime()
  .domain([new Date(1998, 10, 24), new Date(2008, 1, 20)])
  .range([120, 1182.7]);

const diamond = (r: number) => `M0,${-r}L${r},0L0,${r}L${-r},0Z`;

type Sel = d3.Selection<any, any, any, any>;

interface SeriesCfg {
  id: string;
  top: number;
  bottom: number;
  yDomain: [number, number];
  yTicks: number[];
  obsCal: number[][];
  obsTest: number[][];
  testOffset: number;
  simCal: number[][];
  simTest: number[][];
  pumped: number[][];
  monthStart: Date;
  title: string;
  titleY: number;
  panel: string;
  panelY: number;
  legend: boolean;
}

function fmtTick(v: number) {
  return v === 0 ? "0" : v.toFixed(1);
}

function drawSeriesPanel(svg: Sel, defs: Sel, c: SeriesCfg) {
  const L = 120, R = 1182.7;
  const y = d3.scaleLinear().domain(c.yDomain).range([c.bottom, c.top]);
  const g = svg.append("g");

  defs.append("clipPath").attr("id", `clip-${c.id}`)
    .append("rect").attr("x", L).attr("y", c.top).attr("width", R - L).attr("height", c.bottom - c.top);

  // grid
  const drawGrid = (target: Sel) => {
    const gg = target.append("g");
    gg.selectAll("line.h").data(c.yTicks.filter((v) => v !== 0)).join("line")
      .attr("x1", L).attr("x2", R).attr("y1", (d) => y(d)).attr("y2", (d) => y(d))
      .attr("stroke", GRID).attr("stroke-width", 1.6);
    gg.selectAll("line.v").data(d3.range(2000, 2008)).join("line")
      .attr("x1", (d) => x(new Date(d, 0, 1))).attr("x2", (d) => x(new Date(d, 0, 1)))
      .attr("y1", c.top).attr("y2", c.bottom)
      .attr("stroke", GRID).attr("stroke-width", 1.6);
  };
  drawGrid(g);

  // zero line
  g.append("line").attr("x1", L).attr("x2", R).attr("y1", y(0)).attr("y2", y(0))
    .attr("stroke", "#4d4d4d").attr("stroke-width", 1.3);

  if (c.legend) {
    const lg = g.append("g");
    lg.append("rect").attr("x", 130).attr("y", 652).attr("width", 388).attr("height", 94).attr("fill", "#fff");
    defs.append("clipPath").attr("id", "legclip").append("rect").attr("x", 130).attr("y", 652).attr("width", 388).attr("height", 94);
    drawGrid(lg.append("g").attr("clip-path", "url(#legclip)"));
    const colors = [RED, DKGREEN, PURPLE, BLUE, TESTPT];
    legendLabels.forEach((lab, i) => {
      const yy = 672.3 + 16.1 * i;
      const isPt = i >= 3;
      lg.append("line").attr("x1", 134.3).attr("x2", 159).attr("y1", yy).attr("y2", yy)
        .attr("stroke", colors[i]).attr("stroke-width", isPt ? 1.2 : 2);
      if (isPt) lg.append("path").attr("d", diamond(3.2)).attr("transform", `translate(146.7,${yy})`).attr("fill", colors[i]);
      lg.append("text").attr("x", 170.3).attr("y", yy + 4.9).attr("font-size", 14).attr("fill", "#111")
        .attr("font-family", FONT).text(lab);
    });
  }

  const data = g.append("g").attr("clip-path", `url(#clip-${c.id})`);
  const testX = (w: number) => x(weekDate(w + c.testOffset));
  const calX = (w: number) => x(weekDate(w));

  // error bars
  data.append("g").selectAll("line").data(c.obsCal).join("line")
    .attr("x1", (d) => calX(d[0])).attr("x2", (d) => calX(d[0]))
    .attr("y1", (d) => y(d[1] - d[2])).attr("y2", (d) => y(d[1] + d[2]))
    .attr("stroke", BLUE_CI).attr("stroke-width", 1.6);
  data.append("g").selectAll("line").data(c.obsTest).join("line")
    .attr("x1", (d) => testX(d[0])).attr("x2", (d) => testX(d[0]))
    .attr("y1", (d) => y(d[1] - d[2])).attr("y2", (d) => y(d[1] + d[2]))
    .attr("stroke", TEST_CI).attr("stroke-width", 1.6);

  // lines
  const line = (fx: (w: number) => number) =>
    d3.line<number[]>().x((d) => fx(d[0])).y((d) => y(d[1]));
  data.append("path").attr("d", line(calX)(c.pumped)).attr("fill", "none").attr("stroke", PURPLE).attr("stroke-width", 2.2);
  data.append("path").attr("d", line(calX)(c.simCal)).attr("fill", "none").attr("stroke", RED).attr("stroke-width", 2.2);
  data.append("path").attr("d", line(testX)(c.simTest)).attr("fill", "none").attr("stroke", DKGREEN).attr("stroke-width", 2.2);

  // points
  data.append("g").selectAll("path").data(c.obsCal).join("path")
    .attr("d", diamond(3.5)).attr("transform", (d) => `translate(${calX(d[0])},${y(d[1])})`).attr("fill", BLUE);
  data.append("g").selectAll("path").data(c.obsTest).join("path")
    .attr("d", diamond(3.5)).attr("transform", (d) => `translate(${testX(d[0])},${y(d[1])})`).attr("fill", TESTPT);

  // frame
  g.append("rect").attr("x", L).attr("y", c.top).attr("width", R - L).attr("height", c.bottom - c.top)
    .attr("fill", "none").attr("stroke", FRAME).attr("stroke-width", 2);

  // y axis
  const ya = g.append("g").attr("font-family", FONT).attr("font-size", 17.6).attr("fill", "#111");
  c.yTicks.forEach((v) => {
    ya.append("line").attr("x1", 108).attr("x2", L).attr("y1", y(v)).attr("y2", y(v)).attr("stroke", FRAME).attr("stroke-width", 1.5);
    ya.append("text").attr("x", 98).attr("y", y(v) + 6.3).attr("text-anchor", "end").text(fmtTick(v));
  });

  // month ticks
  const months = d3.timeMonth.range(c.monthStart, new Date(2007, 7, 2), 3);
  const ma = g.append("g").attr("font-family", FONT).attr("font-size", 17.6).attr("fill", "#111");
  months.forEach((m, i) => {
    const xx = x(m);
    ma.append("line").attr("x1", xx).attr("x2", xx).attr("y1", c.bottom).attr("y2", c.bottom + 10).attr("stroke", FRAME).attr("stroke-width", 1.5);
    ma.append("text").attr("x", xx).attr("y", c.bottom + (i % 2 === 0 ? 29.5 : 46)).attr("text-anchor", "middle")
      .text(d3.timeFormat("%b")(m));
  });

  // year labels
  const yl = g.append("g").attr("font-family", FONT).attr("font-size", 19).attr("fill", "#111");
  yearLabels.forEach((yr) => {
    yl.append("text").attr("x", x(new Date(yr, 5, 11))).attr("y", c.top - 12.8).attr("text-anchor", "middle").text(String(yr));
  });

  // titles
  g.append("text").attr("x", 132).attr("y", c.titleY).attr("font-family", FONT).attr("font-size", 27.3).attr("fill", "#111").text(c.title);
  g.append("text").attr("x", 28).attr("y", c.panelY).attr("font-family", FONT).attr("font-size", 27).attr("fill", "#111").text(c.panel);

  const cy = (c.top + c.bottom) / 2;
  const yt = g.append("text").attr("transform", `translate(37,${cy}) rotate(-90)`).attr("text-anchor", "middle")
    .attr("font-family", FONT).attr("font-size", 22.5).attr("fill", "#111");
  yt.append("tspan").text("Streamflow Gain (million m");
  yt.append("tspan").attr("dy", -9).attr("font-size", 15).text("3");
  yt.append("tspan").attr("dy", 9).text(" wk");
  yt.append("tspan").attr("dy", -9).attr("font-size", 15).text("\u22121");
  yt.append("tspan").attr("dy", 9).text(")");
}

interface HistCfg {
  id: string;
  x0: number;
  pxPerUnit: number;
  yZero: number;
  y150: number;
  axisY: number;
  cal: number[];
  test: number[];
  calN: number;
  testN: number;
  panel: string;
  panelY: number;
  legendY: [number, number];
  freqX: number;
  freqY: number;
  tickLabelY: number;
  titleY: number;
}

function drawHist(svg: Sel, defs: Sel, h: HistCfg) {
  const hx = d3.scaleLinear().domain([-10.8, 10.8]).range([h.x0 - 10.8 * h.pxPerUnit, h.x0 + 10.8 * h.pxPerUnit]);
  const hy = d3.scaleLinear().domain([0, 150]).range([h.yZero, h.y150]);
  const g = svg.append("g");
  defs.append("clipPath").attr("id", `hclip-${h.id}`).append("rect")
    .attr("x", hx(-10.8)).attr("y", hy(156)).attr("width", hx(10.8) - hx(-10.8)).attr("height", hy(0) - hy(156) + 2);
  const bars = g.append("g").attr("clip-path", `url(#hclip-${h.id})`);

  bars.append("line").attr("x1", hx(-11)).attr("x2", hx(11)).attr("y1", hy(0)).attr("y2", hy(0)).attr("stroke", "#222").attr("stroke-width", 1.2);
  const idx = histBinLower.map((_, i) => i);
  bars.append("g").selectAll("rect").data(idx.filter((i) => h.cal[i] > 0)).join("rect")
    .attr("x", (i) => hx(histBinLower[i])).attr("width", (i) => hx(histBinLower[i] + 1) - hx(histBinLower[i]))
    .attr("y", (i) => hy(h.cal[i])).attr("height", (i) => hy(0) - hy(h.cal[i]))
    .attr("fill", "#bebebe").attr("stroke", "#222").attr("stroke-width", 1.1);
  bars.append("g").selectAll("rect").data(idx.filter((i) => h.test[i] > 0)).join("rect")
    .attr("x", (i) => hx(histBinLower[i])).attr("width", (i) => hx(histBinLower[i] + 1) - hx(histBinLower[i]))
    .attr("y", (i) => hy(h.test[i])).attr("height", (i) => hy(0) - hy(h.test[i]))
    .attr("fill", "url(#hatch)").attr("stroke", "#222").attr("stroke-width", 1.1);

  // y axis
  const ax = g.append("g").attr("font-family", FONT).attr("font-size", 20.5).attr("fill", "#111");
  const axX = hx(-10.8);
  ax.append("line").attr("x1", axX).attr("x2", axX).attr("y1", hy(0)).attr("y2", hy(150)).attr("stroke", "#222").attr("stroke-width", 1.2);
  histYTicks.forEach((v) => {
    ax.append("line").attr("x1", axX - 12.7).attr("x2", axX).attr("y1", hy(v)).attr("y2", hy(v)).attr("stroke", "#222").attr("stroke-width", 1.2);
    ax.append("text").attr("x", axX - 26).attr("y", hy(v) + 7.5).attr("text-anchor", "end").text(String(v));
  });
  // x axis
  ax.append("line").attr("x1", hx(-10)).attr("x2", hx(10)).attr("y1", h.axisY).attr("y2", h.axisY).attr("stroke", "#555").attr("stroke-width", 1.5);
  histXTicks.forEach((v) => {
    ax.append("line").attr("x1", hx(v)).attr("x2", hx(v)).attr("y1", h.axisY).attr("y2", h.axisY + 11).attr("stroke", "#555").attr("stroke-width", 1.5);
    ax.append("text").attr("x", hx(v)).attr("y", h.tickLabelY).attr("text-anchor", "middle").text(String(v));
  });

  // axis titles
  g.append("text").attr("transform", `translate(${h.freqX},${h.freqY}) rotate(-90)`).attr("text-anchor", "middle")
    .attr("font-family", FONT).attr("font-size", 20.5).attr("fill", "#111").text("Frequency");
  const t = g.append("text").attr("x", h.x0).attr("y", h.titleY).attr("text-anchor", "middle")
    .attr("font-family", FONT).attr("font-size", 20.7).attr("fill", "#111");
  t.append("tspan").text("Flow Residuals (10");
  t.append("tspan").attr("dy", -9).attr("font-size", 13).text("6");
  t.append("tspan").attr("dy", 9).text(" m");
  t.append("tspan").attr("dy", -9).attr("font-size", 13).text("3");
  t.append("tspan").attr("dy", 9).text(" wk");
  t.append("tspan").attr("dy", -9).attr("font-size", 13).text("-1");
  t.append("tspan").attr("dy", 9).text(")");

  g.append("text").attr("x", 1211).attr("y", h.panelY).attr("font-family", FONT).attr("font-size", 25).attr("fill", "#111").text(h.panel);

  // legend
  const lg = g.append("g").attr("font-family", FONT).attr("font-size", 16).attr("fill", "#111");
  const rows: [string, string][] = [
    [`Calibration Period (# Resids =  ${h.calN} )`, "#bebebe"],
    [`Testing Period (# Resids =  ${h.testN} )`, "hatch"],
  ];
  rows.forEach(([lab, kind], i) => {
    const yy = h.legendY[i];
    if (kind === "hatch") {
      lg.append("rect").attr("x", 1376).attr("y", yy - 6).attr("width", 12).attr("height", 12).attr("fill", "#fff");
      lg.append("rect").attr("x", 1376).attr("y", yy - 6).attr("width", 12).attr("height", 12).attr("fill", "url(#hatchS)").attr("stroke", "#222").attr("stroke-width", 1);
    } else {
      lg.append("rect").attr("x", 1376).attr("y", yy - 6).attr("width", 12).attr("height", 12).attr("fill", kind).attr("stroke", "#222").attr("stroke-width", 1);
    }
    lg.append("text").attr("x", 1403).attr("y", yy + 5.6).style("white-space", "pre").text(lab);
  });
}

function drawAll(node: SVGSVGElement) {
  const svg = d3.select(node);
  svg.selectAll("*").remove();
  svg.append("rect").attr("width", 1676).attr("height", 875).attr("fill", "#fff");
  const defs = svg.append("defs");
  const hatch = defs.append("pattern").attr("id", "hatch").attr("patternUnits", "userSpaceOnUse")
    .attr("width", 8).attr("height", 8).attr("patternTransform", "rotate(45)");
  hatch.append("line").attr("x1", 4).attr("x2", 4).attr("y1", -1).attr("y2", 9).attr("stroke", "#333").attr("stroke-width", 1);
  const hatchS = defs.append("pattern").attr("id", "hatchS").attr("patternUnits", "userSpaceOnUse")
    .attr("width", 5).attr("height", 5).attr("patternTransform", "rotate(45)");
  hatchS.append("line").attr("x1", 2.5).attr("x2", 2.5).attr("y1", -1).attr("y2", 6).attr("stroke", "#333").attr("stroke-width", 0.9);

  drawSeriesPanel(svg, defs, {
    id: "up", top: 43.3, bottom: 381, yDomain: [-13.52, 13.52], yTicks: upYTicks,
    obsCal: upObsCal, obsTest: upObsTest, testOffset: UP_TEST_OFFSET,
    simCal: upSimCal, simTest: upSimTest, pumped: upPumped,
    monthStart: new Date(1999, 4, 1), title: "Upstream Region Streamflow Gains", titleY: 358,
    panel: "A)", panelY: 31, legend: false,
  });
  drawSeriesPanel(svg, defs, {
    id: "dn", top: 486.7, bottom: 825, yDomain: [-3.24, 3.24], yTicks: dnYTicks,
    obsCal: dnObsCal, obsTest: dnObsTest, testOffset: 0,
    simCal: dnSimCal, simTest: dnSimTest, pumped: dnPumped,
    monthStart: new Date(2002, 4, 1), title: "Downstream Region Streamflow Gains", titleY: 515,
    panel: "C)", panelY: 466, legend: true,
  });
  drawHist(svg, defs, {
    id: "b", x0: 1480.7, pxPerUnit: 17.1, yZero: 315.7, y150: 72.7, axisY: 327.3,
    cal: upCalCounts, test: upTestCounts, calN: 260, testN: 187,
    panel: "B)", panelY: 37, legendY: [25.7, 45.7], freqX: 1218, freqY: 181.7, tickLabelY: 371.7, titleY: 418,
  });
  drawHist(svg, defs, {
    id: "d", x0: 1482.7, pxPerUnit: 17.15, yZero: 760, y150: 516, axisY: 771,
    cal: dnCalCounts, test: dnTestCounts, calN: 209, testN: 83,
    panel: "D)", panelY: 480, legendY: [469, 489.7], freqX: 1220, freqY: 625, tickLabelY: 816, titleY: 862.7,
  });
}

export default function App() {
  const ref = useRef<SVGSVGElement | null>(null);
  useEffect(() => {
    if (ref.current) drawAll(ref.current);
  }, []);
  return (
    <div style={{ position: "absolute", left: 0, top: 0 }}>
      <svg ref={ref} width={1676} height={875} style={{ display: "block" }} />
    </div>
  );
}
